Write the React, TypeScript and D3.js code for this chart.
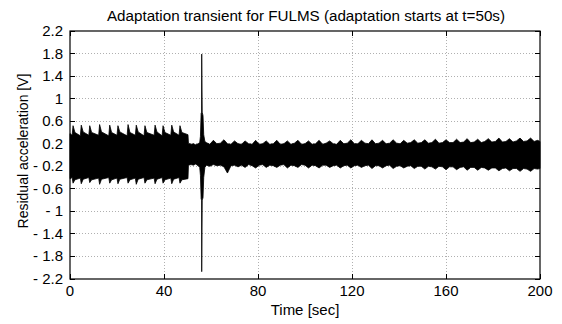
import React from 'react';
import * as d3 from 'd3';

const title = 'Adaptation transient for FULMS (adaptation starts at t=50s)';
const xLabel = 'Time [sec]';
const yLabel = 'Residual acceleration [V]';
const xTicks = [0, 40, 80, 120, 160, 200];
const yTicks = [-2.2, -1.8, -1.4, -1, -0.6, -0.2, 0.2, 0.6, 1, 1.4, 1.8, 2.2];

// envelope of the (densely oscillating) residual signal
const envTime = [
  0,
  0.9, 1.3, 2.1,
  4.4, 4.8, 5.6,
  8.0, 8.4, 9.2,
  12.2, 12.6, 13.4,
  16.5, 16.9, 17.7,
  20.0, 20.4, 21.2,
  24.3, 24.7, 25.5,
  27.8, 28.2, 29.0,
  31.5, 31.9, 32.7,
  35.8, 36.2, 37.0,
  39.2, 39.6, 40.4,
  42.9, 43.3, 44.1,
  46.4, 46.8, 47.6,
  50.2,
  50.4, 51.5, 52.5, 53.5, 54.5, 55.2, 55.5,
  55.8, 56.0, 56.05, 56.25, 56.6, 56.9, 57.4,
  58, 59.5, 61, 62.5, 64, 65.5, 67, 68.5, 70, 71.5,
  73, 74.5, 76, 77.5, 79, 80.5, 82, 83.5, 85, 86.5,
  88, 89.5, 91, 92.5, 94, 95.5, 97, 98.5, 100, 101.5,
  103, 104.5, 106, 107.5, 109, 110.5, 112, 113.5, 115, 116.5,
  118, 119.5, 121, 122.5, 124, 125.5, 127, 128.5, 130, 131.5,
  133, 134.5, 136, 137.5, 139, 140.5, 142, 143.5, 145, 146.5,
  148, 149.5, 151, 152.5, 154, 155.5, 157, 158.5, 160, 161.5,
  163, 164.5, 166, 167.5, 169, 170.5, 172, 173.5, 175, 176.5,
  178, 179.5, 181, 182.5, 184, 185.5, 187, 188.5, 190, 191.5,
  193, 194.5, 196, 197.5, 199, 200,
];
const envUpper = [
  0.38,
  0.35, 0.52, 0.40,
  0.34, 0.53, 0.41,
  0.35, 0.52, 0.40,
  0.35, 0.54, 0.41,
  0.34, 0.53, 0.40,
  0.35, 0.52, 0.41,
  0.34, 0.54, 0.40,
  0.35, 0.53, 0.41,
  0.34, 0.52, 0.40,
  0.35, 0.53, 0.41,
  0.34, 0.52, 0.40,
  0.35, 0.53, 0.41,
  0.35, 0.52, 0.40,
  0.36,
  0.21, 0.19, 0.20, 0.18, 0.20, 0.22, 0.33,
  0.74, 0.76, 1.79, 0.76, 0.70, 0.36, 0.24,
  0.22, 0.19, 0.26, 0.20, 0.21, 0.27, 0.20, 0.19, 0.25, 0.20,
  0.19, 0.25, 0.20, 0.19, 0.26, 0.19, 0.20, 0.25, 0.19, 0.20,
  0.26, 0.19, 0.20, 0.25, 0.19, 0.21, 0.26, 0.19, 0.20, 0.25,
  0.19, 0.20, 0.26, 0.19, 0.21, 0.25, 0.20, 0.19, 0.26, 0.20,
  0.21, 0.27, 0.20, 0.20, 0.26, 0.21, 0.20, 0.27, 0.20, 0.21,
  0.26, 0.20, 0.21, 0.27, 0.21, 0.20, 0.26, 0.21, 0.22, 0.27,
  0.21, 0.22, 0.27, 0.21, 0.22, 0.28, 0.21, 0.22, 0.27, 0.22,
  0.22, 0.28, 0.22, 0.23, 0.29, 0.22, 0.23, 0.28, 0.22, 0.24,
  0.29, 0.23, 0.24, 0.30, 0.23, 0.24, 0.29, 0.23, 0.25, 0.30,
  0.24, 0.25, 0.30, 0.24, 0.26, 0.24,
];
const envLower = [
  -0.42,
  -0.40, -0.50, -0.44,
  -0.41, -0.51, -0.43,
  -0.40, -0.49, -0.44,
  -0.41, -0.52, -0.43,
  -0.40, -0.50, -0.44,
  -0.41, -0.51, -0.43,
  -0.40, -0.50, -0.44,
  -0.41, -0.52, -0.43,
  -0.40, -0.50, -0.44,
  -0.41, -0.51, -0.43,
  -0.40, -0.50, -0.44,
  -0.41, -0.51, -0.43,
  -0.40, -0.50, -0.44,
  -0.42,
  -0.18, -0.17, -0.18, -0.16, -0.19, -0.22, -0.36,
  -0.78, -0.80, -2.07, -0.80, -0.76, -0.40, -0.22,
  -0.18, -0.20, -0.17, -0.19, -0.18, -0.21, -0.32, -0.19, -0.18, -0.21,
  -0.18, -0.22, -0.17, -0.19, -0.23, -0.18, -0.17, -0.22, -0.18, -0.19,
  -0.22, -0.18, -0.17, -0.23, -0.18, -0.19, -0.22, -0.17, -0.18, -0.23,
  -0.18, -0.19, -0.23, -0.18, -0.18, -0.22, -0.19, -0.18, -0.23, -0.19,
  -0.18, -0.23, -0.19, -0.18, -0.22, -0.19, -0.18, -0.24, -0.19, -0.19,
  -0.23, -0.19, -0.18, -0.24, -0.20, -0.19, -0.23, -0.20, -0.19, -0.24,
  -0.20, -0.20, -0.25, -0.20, -0.21, -0.25, -0.20, -0.21, -0.26, -0.21,
  -0.21, -0.26, -0.22, -0.21, -0.27, -0.22, -0.22, -0.27, -0.22, -0.23,
  -0.27, -0.23, -0.23, -0.28, -0.24, -0.23, -0.28, -0.24, -0.24, -0.29,
  -0.24, -0.25, -0.29, -0.24, -0.25, -0.24,
];

const W = 562;
const H = 324;
const L = 70, R = 540, T = 31, B = 279;
const FONT = '"Liberation Sans", Arial, sans-serif';

export default function App() {
  const x = d3.scaleLinear().domain([0, 200]).range([L, R]);
  const y = d3.scaleLinear().domain([-2.2, 2.2]).range([B, T]);
  const n = Math.min(envTime.length, envUpper.length, envLower.length);
  const idx = d3.range(n);
  const area = d3
    .area<number>()
    .x((i) => x(envTime[i]))
    .y0((i) => y(envLower[i]))
    .y1((i) => y(envUpper[i]));
  const fmt = (v: number) => (v < 0 ? '- ' + String(Math.abs(v)) : String(v));
  const tickLen = 5;

  return (
    <svg
      width={W}
      height={H}
      style={{ position: 'absolute', left: 0, top: 0, background: '#fff' }}
      fontFamily={FONT}
    >
      <rect x={0} y={0} width={W} height={H} fill="#fff" />
      {/* grid */}
      <g stroke="#b0b0b0" strokeWidth={1} strokeDasharray="1,2" shapeRendering="crispEdges">
        {xTicks.slice(1, -1).map((t) => (
          <line key={'gx' + t} x1={x(t)} x2={x(t)} y1={T} y2={B} />
        ))}
        {yTicks.slice(1, -1).map((t) => (
          <line key={'gy' + t} x1={L} x2={R} y1={y(t)} y2={y(t)} />
        ))}
      </g>
      {/* signal envelope */}
      <path d={area(idx) || ''} fill="#000" stroke="#000" strokeWidth={0.8} />
      {/* ticks */}
      <g stroke="#000" strokeWidth={1} shapeRendering="crispEdges">
        {xTicks.map((t) => (
          <g key={'tx' + t}>
            <line x1={x(t)} x2={x(t)} y1={B} y2={B - tickLen} />
            <line x1={x(t)} x2={x(t)} y1={T} y2={T + tickLen} />
          </g>
        ))}
        {yTicks.map((t) => (
          <g key={'ty' + t}>
            <line x1={L} x2={L + tickLen} y1={y(t)} y2={y(t)} />
            <line x1={R} x2={R - tickLen} y1={y(t)} y2={y(t)} />
          </g>
        ))}
      </g>
      {/* frame */}
      <rect x={L} y={T} width={R - L} height={B - T} fill="none" stroke="#000" strokeWidth={1.2} />
      {/* tick labels */}
      <g fontSize={15} fill="#000">
        {xTicks.map((t) => (
          <text key={'lx' + t} x={x(t)} y={296} textAnchor="middle">
            {String(t)}
          </text>
        ))}
        {yTicks.map((t) => (
          <text key={'ly' + t} x={63} y={y(t) + 5} textAnchor="end">
            {fmt(t)}
          </text>
        ))}
      </g>
      {/* labels */}
      <text x={306} y={21} textAnchor="middle" fontSize={15.2} fill="#000">
        {title}
      </text>
      <text x={305} y={315} textAnchor="middle" fontSize={15} fill="#000">
        {xLabel}
      </text>
      <text
        transform={`translate(28,151) rotate(-90)`}
        textAnchor="middle"
        fontSize={14}
        fill="#000"
      >
        {yLabel}
      </text>
    </svg>
  );
}
